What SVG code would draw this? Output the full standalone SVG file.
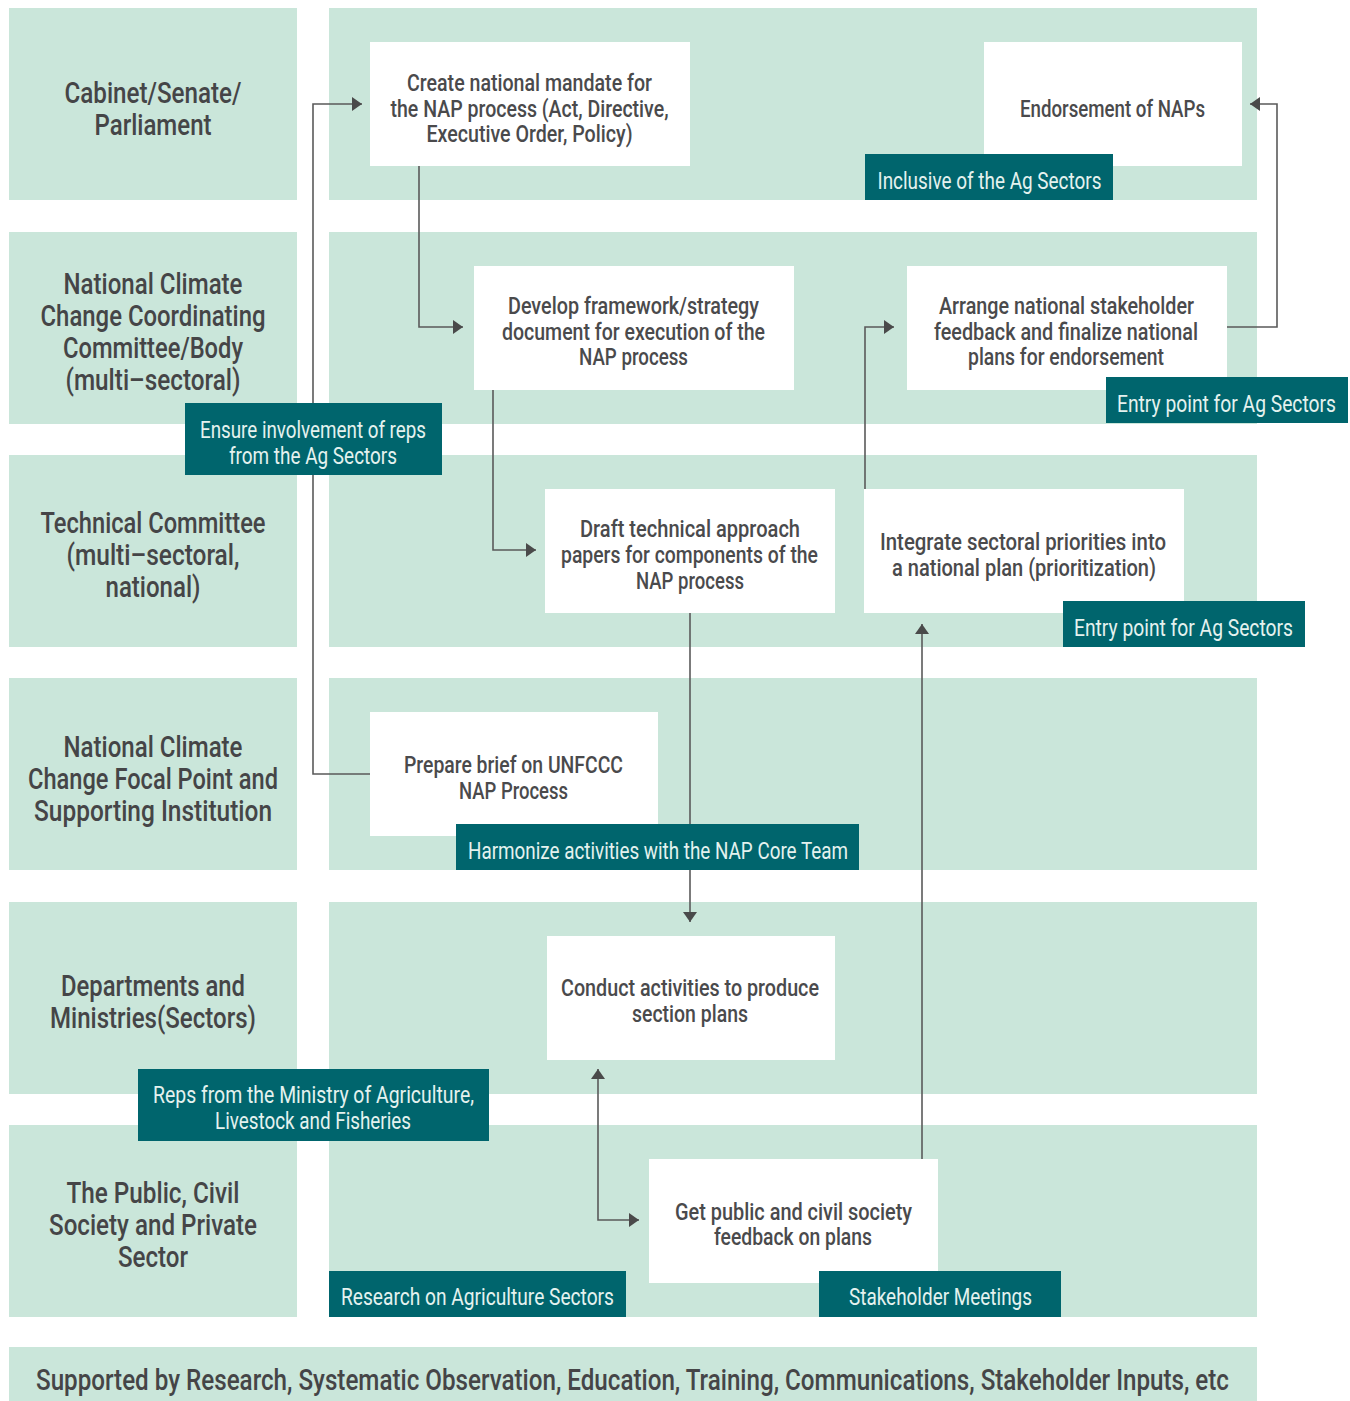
<svg xmlns="http://www.w3.org/2000/svg" width="1350" height="1401" viewBox="0 0 1350 1401">
<style>
.band{fill:#cae6da}
.node{fill:#ffffff}
.tag{fill:#00656d}
text{font-family:Roboto,'DejaVu Sans','Liberation Sans',sans-serif;text-anchor:middle}
.t{font-size:23px;fill:#4a4a4c;font-weight:500}
.tt{font-size:23px;fill:#e4f2ef;font-weight:400}
.row{font-size:29px;fill:#454547;font-weight:500}
.conn{stroke:#5a5a5a;stroke-width:1.6;fill:none}
</style>
<defs>
<marker id="arr" markerUnits="userSpaceOnUse" markerWidth="12" markerHeight="16" refX="10" refY="7" orient="auto-start-reverse" viewBox="0 0 12 16">
<path d="M0,0 L10,7 L0,14 z" fill="#4a4a4a"/>
</marker>
</defs>
<rect width="1350" height="1401" fill="#ffffff"/>
<g id="bands">
<rect class="band" x="9" y="8" width="288" height="192"/>
<rect class="band" x="329" y="8" width="928" height="192"/>
<rect class="band" x="9" y="232" width="288" height="192"/>
<rect class="band" x="329" y="232" width="928" height="192"/>
<rect class="band" x="9" y="455" width="288" height="192"/>
<rect class="band" x="329" y="455" width="928" height="192"/>
<rect class="band" x="9" y="678" width="288" height="192"/>
<rect class="band" x="329" y="678" width="928" height="192"/>
<rect class="band" x="9" y="902" width="288" height="192"/>
<rect class="band" x="329" y="902" width="928" height="192"/>
<rect class="band" x="9" y="1125" width="288" height="192"/>
<rect class="band" x="329" y="1125" width="928" height="192"/>
<rect class="band" x="9" y="1347" width="1248" height="54"/>
</g>
<g id="row-labels" class="row">
<text x="153" y="103" textLength="177" lengthAdjust="spacingAndGlyphs">Cabinet/Senate/</text>
<text x="153" y="135" textLength="117" lengthAdjust="spacingAndGlyphs">Parliament</text>
<text x="153" y="294" textLength="179" lengthAdjust="spacingAndGlyphs">National Climate</text>
<text x="153" y="326" textLength="225" lengthAdjust="spacingAndGlyphs">Change Coordinating</text>
<text x="153" y="358" textLength="180" lengthAdjust="spacingAndGlyphs">Committee/Body</text>
<text x="153" y="390" textLength="175" lengthAdjust="spacingAndGlyphs">(multi–sectoral)</text>
<text x="153" y="533" textLength="225" lengthAdjust="spacingAndGlyphs">Technical Committee</text>
<text x="153" y="565" textLength="173" lengthAdjust="spacingAndGlyphs">(multi–sectoral,</text>
<text x="153" y="597" textLength="95" lengthAdjust="spacingAndGlyphs">national)</text>
<text x="153" y="757" textLength="179" lengthAdjust="spacingAndGlyphs">National Climate</text>
<text x="153" y="789" textLength="250" lengthAdjust="spacingAndGlyphs">Change Focal Point and</text>
<text x="153" y="821" textLength="238" lengthAdjust="spacingAndGlyphs">Supporting Institution</text>
<text x="153" y="996" textLength="184" lengthAdjust="spacingAndGlyphs">Departments and</text>
<text x="153" y="1028" textLength="206" lengthAdjust="spacingAndGlyphs">Ministries(Sectors)</text>
<text x="153" y="1203" textLength="173" lengthAdjust="spacingAndGlyphs">The Public, Civil</text>
<text x="153" y="1235" textLength="208" lengthAdjust="spacingAndGlyphs">Society and Private</text>
<text x="153" y="1267" textLength="70" lengthAdjust="spacingAndGlyphs">Sector</text>
<text x="632.5" y="1390" textLength="1193" lengthAdjust="spacingAndGlyphs">Supported by Research, Systematic Observation, Education, Training, Communications, Stakeholder Inputs, etc</text>
</g>
<g id="connectors">
<path class="conn" d="M370,774 H313 V104 H362" marker-end="url(#arr)"/>
<path class="conn" d="M419,166 V327 H463" marker-end="url(#arr)"/>
<path class="conn" d="M493,390 V550 H536" marker-end="url(#arr)"/>
<path class="conn" d="M690,613 V922" marker-end="url(#arr)"/>
<path class="conn" d="M922,1159 V624" marker-end="url(#arr)"/>
<path class="conn" d="M865,489 V327 H894" marker-end="url(#arr)"/>
<path class="conn" d="M1227,327 H1277 V104 H1250" marker-end="url(#arr)"/>
<path class="conn" d="M598,1069 V1220 H639" marker-start="url(#arr)" marker-end="url(#arr)"/>
</g>
<g id="n-mandate">
<rect class="node" x="370" y="42" width="320" height="124"/>
<text class="t" x="529.5" y="91" textLength="245" lengthAdjust="spacingAndGlyphs">Create national mandate for</text>
<text class="t" x="529.5" y="116.5" textLength="278" lengthAdjust="spacingAndGlyphs">the NAP process (Act, Directive,</text>
<text class="t" x="529.5" y="142" textLength="206" lengthAdjust="spacingAndGlyphs">Executive Order, Policy)</text>
</g>
<g id="n-endorse">
<rect class="node" x="984" y="42" width="258" height="124"/>
<text class="t" x="1112.5" y="116.5" textLength="185" lengthAdjust="spacingAndGlyphs">Endorsement of NAPs</text>
</g>
<g id="tag-inclusive">
<rect class="tag" x="865" y="154" width="248" height="46"/>
<text class="tt" x="989.5" y="189" textLength="224" lengthAdjust="spacingAndGlyphs">Inclusive of the Ag Sectors</text>
</g>
<g id="n-framework">
<rect class="node" x="474" y="266" width="320" height="124"/>
<text class="t" x="633.5" y="314" textLength="251" lengthAdjust="spacingAndGlyphs">Develop framework/strategy</text>
<text class="t" x="633.5" y="339.5" textLength="263" lengthAdjust="spacingAndGlyphs">document for execution of the</text>
<text class="t" x="633.5" y="365" textLength="109" lengthAdjust="spacingAndGlyphs">NAP process</text>
</g>
<g id="n-arrange">
<rect class="node" x="907" y="266" width="320" height="124"/>
<text class="t" x="1066.5" y="314" textLength="255" lengthAdjust="spacingAndGlyphs">Arrange national stakeholder</text>
<text class="t" x="1066" y="339.5" textLength="264" lengthAdjust="spacingAndGlyphs">feedback and finalize national</text>
<text class="t" x="1066" y="365" textLength="196" lengthAdjust="spacingAndGlyphs">plans for endorsement</text>
</g>
<g id="tag-entry1">
<rect class="tag" x="1106" y="377" width="242" height="46"/>
<text class="tt" x="1226.5" y="412" textLength="219" lengthAdjust="spacingAndGlyphs">Entry point for Ag Sectors</text>
</g>
<g id="tag-ensure">
<rect class="tag" x="185" y="403" width="257" height="72"/>
<text class="tt" x="313" y="438" textLength="226" lengthAdjust="spacingAndGlyphs">Ensure involvement of reps</text>
<text class="tt" x="313" y="464" textLength="168" lengthAdjust="spacingAndGlyphs">from the Ag Sectors</text>
</g>
<g id="n-draft">
<rect class="node" x="545" y="489" width="290" height="124"/>
<text class="t" x="690" y="537" textLength="220" lengthAdjust="spacingAndGlyphs">Draft technical approach</text>
<text class="t" x="689.5" y="563" textLength="257" lengthAdjust="spacingAndGlyphs">papers for components of the</text>
<text class="t" x="690" y="588.5" textLength="108" lengthAdjust="spacingAndGlyphs">NAP process</text>
</g>
<g id="n-integrate">
<rect class="node" x="864" y="489" width="320" height="124"/>
<text class="t" x="1023" y="550" textLength="286" lengthAdjust="spacingAndGlyphs">Integrate sectoral priorities into</text>
<text class="t" x="1024" y="575.5" textLength="264" lengthAdjust="spacingAndGlyphs">a national plan (prioritization)</text>
</g>
<g id="tag-entry2">
<rect class="tag" x="1063" y="601" width="242" height="46"/>
<text class="tt" x="1183.5" y="636" textLength="219" lengthAdjust="spacingAndGlyphs">Entry point for Ag Sectors</text>
</g>
<g id="n-brief">
<rect class="node" x="370" y="712" width="288" height="124"/>
<text class="t" x="513.5" y="773" textLength="219" lengthAdjust="spacingAndGlyphs">Prepare brief on UNFCCC</text>
<text class="t" x="513.5" y="799" textLength="109" lengthAdjust="spacingAndGlyphs">NAP Process</text>
</g>
<g id="tag-harmonize">
<rect class="tag" x="456" y="824" width="403" height="46"/>
<text class="tt" x="658" y="859" textLength="380" lengthAdjust="spacingAndGlyphs">Harmonize activities with the NAP Core Team</text>
</g>
<g id="n-conduct">
<rect class="node" x="547" y="936" width="288" height="124"/>
<text class="t" x="690" y="996" textLength="258" lengthAdjust="spacingAndGlyphs">Conduct activities to produce</text>
<text class="t" x="690" y="1022" textLength="116" lengthAdjust="spacingAndGlyphs">section plans</text>
</g>
<g id="tag-reps">
<rect class="tag" x="138" y="1069" width="351" height="72"/>
<text class="tt" x="313.5" y="1103" textLength="321" lengthAdjust="spacingAndGlyphs">Reps from the Ministry of Agriculture,</text>
<text class="tt" x="313" y="1129" textLength="196" lengthAdjust="spacingAndGlyphs">Livestock and Fisheries</text>
</g>
<g id="n-public">
<rect class="node" x="649" y="1159" width="289" height="124"/>
<text class="t" x="793.5" y="1220" textLength="237" lengthAdjust="spacingAndGlyphs">Get public and civil society</text>
<text class="t" x="793" y="1245" textLength="158" lengthAdjust="spacingAndGlyphs">feedback on plans</text>
</g>
<g id="tag-research">
<rect class="tag" x="329" y="1271" width="297" height="46"/>
<text class="tt" x="477.5" y="1305" textLength="273" lengthAdjust="spacingAndGlyphs">Research on Agriculture Sectors</text>
</g>
<g id="tag-stakeholder">
<rect class="tag" x="819" y="1271" width="242" height="46"/>
<text class="tt" x="940.5" y="1305" textLength="183" lengthAdjust="spacingAndGlyphs">Stakeholder Meetings</text>
</g>
</svg>
